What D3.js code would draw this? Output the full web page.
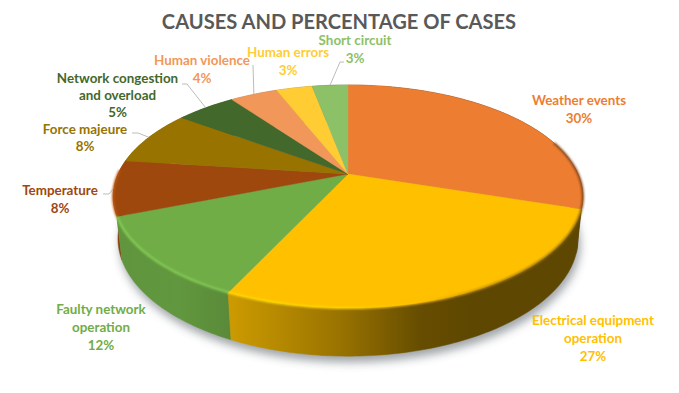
<!DOCTYPE html>
<html>
<head>
<meta charset="utf-8">
<script src="https://cdn.jsdelivr.net/npm/d3@7"></script>
<style>
    html, body { margin: 0; padding: 0; background: #fff; }
    svg { display: block; }
    text { font-family: Lato, "Open Sans", sans-serif; font-weight: 700; }
</style>
</head>
<body>
<div id="chart"></div>
<script>
const title = "CAUSES AND PERCENTAGE OF CASES"
const categories = ["Weather events", "Electrical equipment operation", "Faulty network operation", "Temperature",
    "Force majeure", "Network congestion and overload", "Human violence", "Human errors", "Short circuit"]
const percents = [30, 27, 12, 8, 8, 5, 4, 3, 3]
const sliceColors = ["#ED7D31", "#FFC000", "#70AD47", "#9E480E", "#997300", "#43682B", "#F1975A", "#FFCD33", "#8CC168"]

// label text broken the way the chart breaks it
const labelLines = [["Weather events"], ["Electrical equipment", "operation"], ["Faulty network", "operation"], ["Temperature"],
    ["Force majeure"], ["Network congestion", "and overload"], ["Human violence"], ["Human errors"], ["Short circuit"]]

// hand placed layout, in pixels: label centre, first baseline, line step, leader elbow (null = no leader)
const labelX = [579, 593, 101, 60, 85, 117.5, 202, 288, 355]
const labelY = [105, 325, 314, 195, 134, 83, 65, 57, 45]
const labelStep = [18, 18, 18, 18, 17, 17, 18, 18, 18]
const leaderPoints = [null, null, null, [[103, 194], [109, 194]], [[132, 133], [138, 133]], [[182, 84], [187, 84]],
    [[253, 65]], null, [[344, 62], [340, 62]]]

const width = 679, height = 393

// Perspective view of the pie: u,v on the unit circle, z is 0 on the top face and 1 on the bottom one
const view = { cx: 348, cy: 174, A: 230, B: 107, D: 42, k: 0.202, m: 0.02 }
const project = (angle, z = 0, r = 1) => {
    const u = r * Math.sin(angle), v = r * Math.cos(angle)
    const w = 1 + view.k * v + view.m * z
    return [view.cx + view.A * u / w, view.cy + (-view.B * v + view.D * z) / w]
}

const arcSamples = (a0, a1, z = 0) => {
    const n = Math.max(2, Math.ceil((a1 - a0) / (Math.PI / 180)))
    return d3.range(n + 1).map(i => project(a0 + (a1 - a0) * i / n, z))
}

const pie = d3.pie().sort(null).value(i => percents[i])
const slices = pie(d3.range(percents.length))
const line = d3.line()

const svg = d3.select("#chart").append("svg")
    .attr("width", width)
    .attr("height", height)

const defs = svg.append("defs")
defs.append("filter").attr("id", "shadowBlur")
    .attr("x", "-10%").attr("y", "-10%").attr("width", "120%").attr("height", "120%")
    .append("feGaussianBlur").attr("stdDeviation", 5)
defs.append("filter").attr("id", "rimBlur")
    .attr("x", "-5%").attr("y", "-5%").attr("width", "110%").attr("height", "110%")
    .append("feGaussianBlur").attr("stdDeviation", 0.8)

const shade = (color, f) => {
    const c = d3.rgb(color)
    return d3.rgb(Math.min(255, c.r * f), Math.min(255, c.g * f), Math.min(255, c.b * f)).formatHex()
}

// The light falls from the left, so the side wall and the rim are shaded along x
const addGradient = (id, color, stops) => {
    const g = defs.append("linearGradient").attr("id", id)
        .attr("gradientUnits", "userSpaceOnUse")
        .attr("x1", 113).attr("x2", 583).attr("y1", 0).attr("y2", 0)
    stops.forEach(([x, f]) => {
        g.append("stop").attr("offset", (x - 113) / 470).attr("stop-color", shade(color, f))
    })
}
const wallStops = [[113, 0.86], [180, 0.87], [231, 0.8], [340, 0.6], [420, 0.4], [470, 0.37], [583, 0.37]]
const rimStops = [[113, 1.22], [340, 1.12], [420, 1.0], [490, 0.72], [583, 0.5]]
slices.forEach((s, i) => {
    addGradient(`wall${i}`, sliceColors[i], wallStops)
    addGradient(`rim${i}`, sliceColors[i], rimStops)
})

// Shadow under the pie
const fullBottom = arcSamples(0, 2 * Math.PI, 1)
svg.append("path")
    .attr("d", line(fullBottom) + "Z")
    .attr("transform", "translate(2,6)")
    .attr("fill", "#3c4650")
    .attr("opacity", 0.5)
    .attr("filter", "url(#shadowBlur)")

// Side walls, from back to front
const wallOrder = d3.sort(slices, s => -Math.cos((s.startAngle + s.endAngle) / 2))
svg.append("g").selectAll("path")
    .data(wallOrder)
    .join("path")
    .attr("d", s => line(arcSamples(s.startAngle, s.endAngle, 0).concat(arcSamples(s.startAngle, s.endAngle, 1).reverse())) + "Z")
    .attr("fill", s => `url(#wall${s.index})`)
    .attr("stroke", s => `url(#wall${s.index})`)
    .attr("stroke-width", 0.5)

// Top face
svg.append("g").selectAll("path")
    .data(slices)
    .join("path")
    .attr("d", s => line([[view.cx, view.cy]].concat(arcSamples(s.startAngle, s.endAngle))) + "Z")
    .attr("fill", (s, i) => sliceColors[i])
    .attr("stroke", (s, i) => sliceColors[i])
    .attr("stroke-width", 0.4)

// Soft bevel along the front of the rim
const rimStart = 72 * Math.PI / 180, rimEnd = 272 * Math.PI / 180
svg.append("g").attr("filter", "url(#rimBlur)")
    .attr("fill", "none")
    .selectAll("path")
    .data(slices.filter(s => s.endAngle > rimStart && s.startAngle < rimEnd))
    .join("path")
    .attr("d", s => line(arcSamples(Math.max(s.startAngle, rimStart), Math.min(s.endAngle, rimEnd))))
    .attr("stroke", s => `url(#rim${s.index})`)
    .attr("stroke-width", 2)

// Leader lines run from the elbow to the middle of the slice on the rim
svg.append("g").selectAll("path")
    .data(slices.filter(s => leaderPoints[s.index]))
    .join("path")
    .attr("d", s => line(leaderPoints[s.index].concat([project((s.startAngle + s.endAngle) / 2)])))
    .attr("fill", "none")
    .attr("stroke", "#a6a6a6")
    .attr("stroke-width", 0.75)

// Title
svg.append("text")
    .attr("x", 339)
    .attr("y", 29)
    .attr("text-anchor", "middle")
    .attr("font-size", 20.1)
    .attr("fill", "#595959")
    .text(title)

// Data labels
const labels = svg.append("g").selectAll("text")
    .data(slices)
    .join("text")
    .attr("text-anchor", "middle")
    .attr("font-size", 13.4)
    .attr("fill", (s, i) => sliceColors[i])

labels.selectAll("tspan")
    .data(s => labelLines[s.index].concat([`${percents[s.index]}%`]).map((t, n) => ({ t, n, i: s.index })))
    .join("tspan")
    .attr("x", d => labelX[d.i])
    .attr("y", d => labelY[d.i] + d.n * labelStep[d.i])
    .text(d => d.t)
</script>
</body>
</html>
